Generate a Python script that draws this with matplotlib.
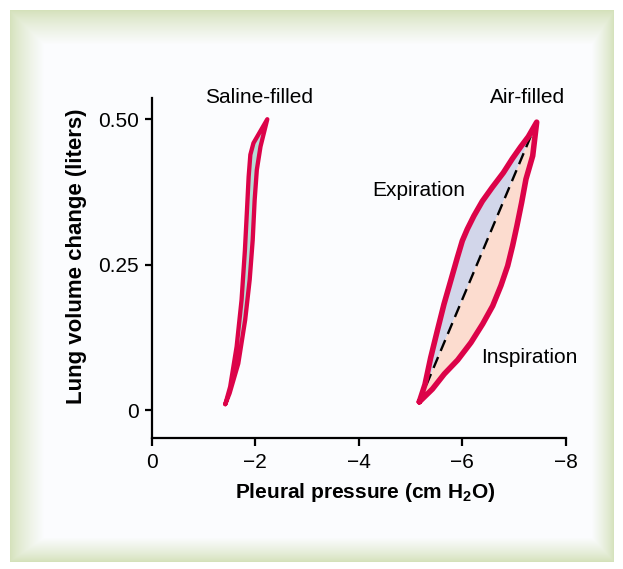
import numpy as np
import matplotlib
matplotlib.use("Agg")
import matplotlib.pyplot as plt

plt.rcParams['font.family'] = ['Liberation Sans', 'DejaVu Sans']
plt.rcParams['mathtext.fontset'] = 'custom'
plt.rcParams['mathtext.rm'] = 'Liberation Sans'
plt.rcParams['mathtext.bf'] = 'Liberation Sans:bold'
plt.rcParams['mathtext.it'] = 'Liberation Sans:italic'

# ---------------- data (pleural pressure cm H2O, lung volume change L) ----------
saline_left_p = [-1.421, -1.515, -1.640, -1.735, -1.800, -1.840, -1.872, -1.905, -1.965, -2.232]
saline_left_v = [0.010, 0.040, 0.109, 0.189, 0.275, 0.344, 0.401, 0.439, 0.459, 0.500]
saline_right_p = [-2.232, -2.101, -2.030, -1.988, -1.950, -1.892, -1.805, -1.672, -1.505, -1.421]
saline_right_v = [0.500, 0.453, 0.413, 0.361, 0.292, 0.224, 0.155, 0.080, 0.029, 0.010]

air_start_p, air_start_v = -5.167, 0.014
air_end_p, air_end_v = -7.434, 0.495
expiration_p = [-5.277, -5.387, -5.514, -5.644, -5.773, -5.901, -5.998, -6.094, -6.223,
                -6.384, -6.577, -6.790, -6.963, -7.120, -7.272]
expiration_v = [0.044, 0.090, 0.136, 0.182, 0.222, 0.262, 0.291, 0.311, 0.334,
                0.359, 0.383, 0.408, 0.432, 0.452, 0.470]
inspiration_p = [-7.357, -7.227, -7.144, -7.053, -6.970, -6.874, -6.744, -6.584, -6.391,
                 -6.165, -5.908, -5.650, -5.420]
inspiration_v = [0.437, 0.397, 0.357, 0.317, 0.283, 0.248, 0.214, 0.179, 0.148,
                 0.116, 0.086, 0.062, 0.036]

x_ticks = [0, -2, -4, -6, -8]
x_tick_labels = ['0', '\u22122', '\u22124', '\u22126', '\u22128']
y_ticks = [0, 0.25, 0.50]
y_tick_labels = ['0', '0.25', '0.50']

# ---------------- styles ----------
W, H = 623, 569
CRIMSON = '#dc0349'
TEAL = '#b6ddd6'
LAVENDER = '#d2d6ea'
PEACH = '#fcdccf'

fig = plt.figure(figsize=(W / 100, H / 100), dpi=100)

# background frame with soft gradient border
yy, xx = np.mgrid[0:H, 0:W].astype(float)
L, T, R, B = 9.5, 10.0, 613.5, 561.0
inside = (xx >= L) & (xx <= R) & (yy >= T) & (yy <= B)
dn = np.minimum.reduce([(xx - L) / 34.0, (R - xx) / 22.0, (yy - T) / 34.0, (B - yy) / 24.0])
t = np.clip(dn, 0, 1) ** 0.8
green = np.array([212, 225, 186]) / 255.0
white = np.array([251, 252, 254]) / 255.0
img = np.ones((H, W, 3))
mix = green[None, None, :] * (1 - t[..., None]) + white[None, None, :] * t[..., None]
img[inside] = mix[inside]
bg = fig.add_axes([0, 0, 1, 1], zorder=-5)
bg.imshow(img, extent=[0, W, H, 0], aspect='auto', interpolation='bilinear')
bg.axis('off')

# main axes
x0, x1 = 151.7, 566.0
ybot, ytop = 437.7, 98.3
ax = fig.add_axes([x0 / W, 1 - ybot / H, (x1 - x0) / W, (ybot - ytop) / H])
ax.set_facecolor('none')
ax.set_xlim(0, -8)
ax.set_ylim(-0.0476, 0.536)
for s in ['top', 'right']:
    ax.spines[s].set_visible(False)
for s in ['left', 'bottom']:
    ax.spines[s].set_linewidth(1.6)
ax.set_xticks(x_ticks)
ax.set_xticklabels(x_tick_labels, fontsize=15)
ax.set_yticks(y_ticks)
ax.set_yticklabels(y_tick_labels, fontsize=15)
ax.tick_params(axis='x', length=6, width=1.6, pad=5)
ax.tick_params(axis='y', length=5, width=1.6, pad=4)

# saline loop
sal_p = saline_left_p + saline_right_p
sal_v = saline_left_v + saline_right_v
ax.fill(sal_p, sal_v, color=TEAL, zorder=2, lw=0)
ax.plot(sal_p, sal_v, color=CRIMSON, lw=3.1, solid_joinstyle='round',
        solid_capstyle='round', zorder=4)

# air loop
exp_p = [air_start_p] + expiration_p + [air_end_p]
exp_v = [air_start_v] + expiration_v + [air_end_v]
ins_p = [air_end_p] + inspiration_p + [air_start_p]
ins_v = [air_end_v] + inspiration_v + [air_start_v]
ax.fill(exp_p, exp_v, color=LAVENDER, zorder=2, lw=0)
ax.fill(ins_p, ins_v, color=PEACH, zorder=2, lw=0)
ax.plot([air_start_p, air_end_p], [air_start_v, air_end_v], color='black',
        lw=1.7, dashes=(5, 2.8), zorder=3)
ax.plot(exp_p + ins_p[1:], exp_v + ins_v[1:], color=CRIMSON, lw=4.0,
        solid_joinstyle='round', solid_capstyle='round', zorder=4)

# annotations
ax.text(-2.08, 0.538, 'Saline-filled', fontsize=15, ha='center', va='center', clip_on=False)
ax.text(-7.26, 0.538, 'Air-filled', fontsize=15, ha='center', va='center', clip_on=False)
ax.text(-5.16, 0.378, 'Expiration', fontsize=15, ha='center', va='center')
ax.text(-7.30, 0.091, 'Inspiration', fontsize=15, ha='center', va='center')

# axis labels
fig.text(365 / W, 1 - 493 / H, r'Pleural pressure (cm H$_\mathbf{2}$O)', fontsize=15,
         fontweight='bold', ha='center', va='center')
fig.text(77 / W, 1 - 256 / H, 'Lung volume change (liters)', fontsize=16,
         fontweight='bold', ha='center', va='center', rotation=90)

fig.savefig('out.png', dpi=100)
